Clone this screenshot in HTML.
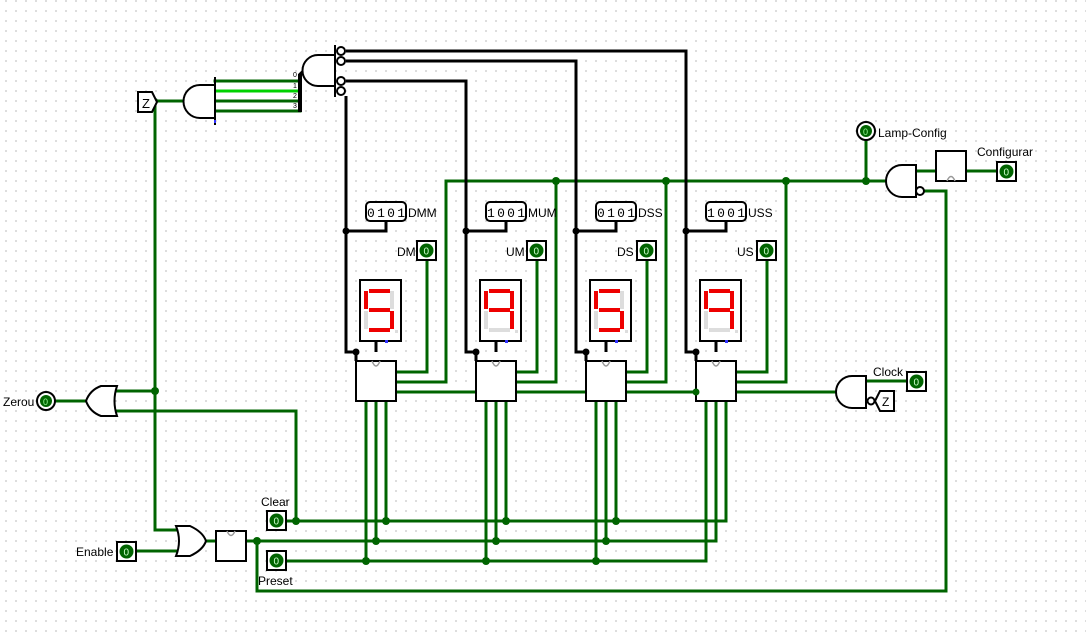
<!DOCTYPE html>
<html><head><meta charset="utf-8"><style>
html,body{margin:0;padding:0;background:#fff;}
svg{display:block;font-family:"Liberation Sans",sans-serif;}
</style></head><body>
<svg width="1086" height="636" viewBox="0 0 1086 636" xmlns="http://www.w3.org/2000/svg">
<defs>
<pattern id="g" x="5" y="0" width="10" height="10" patternUnits="userSpaceOnUse">
<rect x="0.5" y="0.5" width="1" height="1" fill="#777"/>
</pattern>
</defs>
<rect width="1086" height="636" fill="#fff"/>
<rect width="1086" height="636" fill="url(#g)"/>

<g stroke="#006400" stroke-width="3" fill="none" stroke-linecap="square">
<polyline points="155,101 185,101"/>
<line x1="215" y1="81" x2="300" y2="81"/>
<line x1="215" y1="101" x2="300" y2="101"/>
<line x1="215" y1="111" x2="300" y2="111"/>
<polyline points="155,101 155,530 178,530"/>
<line x1="55" y1="401" x2="87" y2="401"/>
<line x1="113" y1="391" x2="155" y2="391"/>
<polyline points="113,411 296,411 296,521"/>
<line x1="136" y1="551" x2="178" y2="551"/>
<line x1="206" y1="541" x2="216" y2="541"/>
<polyline points="246,541 716,541 716,400"/>
<polyline points="257,541 257,591 946,591 946,191 922,191"/>
<polyline points="286,521 726,521 726,400"/>
<polyline points="286,561 706,561 706,400"/>
<line x1="366" y1="400" x2="366" y2="561"/><line x1="376" y1="400" x2="376" y2="541"/><line x1="386" y1="400" x2="386" y2="521"/>
<line x1="486" y1="400" x2="486" y2="561"/><line x1="496" y1="400" x2="496" y2="541"/><line x1="506" y1="400" x2="506" y2="521"/>
<line x1="596" y1="400" x2="596" y2="561"/><line x1="606" y1="400" x2="606" y2="541"/><line x1="616" y1="400" x2="616" y2="521"/>
<polyline points="396,372 427,372 427,260"/>
<polyline points="516,372 537,372 537,260"/>
<polyline points="626,372 647,372 647,260"/>
<polyline points="736,372 767,372 767,260"/>
<polyline points="396,382 446,382 446,181 866,181 886,181"/>
<polyline points="516,382 556,382 556,181"/>
<polyline points="626,382 666,382 666,181"/>
<polyline points="736,382 786,382 786,181"/>
<line x1="396" y1="392" x2="476" y2="392"/>
<line x1="516" y1="392" x2="586" y2="392"/>
<line x1="626" y1="392" x2="696" y2="392"/>
<line x1="736" y1="392" x2="838" y2="392"/>
<line x1="866" y1="381" x2="907" y2="381"/>
<line x1="866" y1="140" x2="866" y2="181"/>
<line x1="916" y1="171" x2="936" y2="171"/>
<line x1="966" y1="171" x2="997" y2="171"/>
</g>
<line x1="215" y1="91" x2="300" y2="91" stroke="#00d200" stroke-width="3"/>
<g fill="#006400">
<circle cx="155" cy="391" r="4"/><circle cx="296" cy="521" r="4"/><circle cx="257" cy="541" r="4"/>
<circle cx="386" cy="521" r="4"/><circle cx="506" cy="521" r="4"/><circle cx="616" cy="521" r="4"/>
<circle cx="376" cy="541" r="4"/><circle cx="496" cy="541" r="4"/><circle cx="606" cy="541" r="4"/>
<circle cx="366" cy="561" r="4"/><circle cx="486" cy="561" r="4"/><circle cx="596" cy="561" r="4"/>
<circle cx="556" cy="181" r="4"/><circle cx="666" cy="181" r="4"/><circle cx="786" cy="181" r="4"/><circle cx="866" cy="181" r="4"/>
<circle cx="155" cy="101" r="3"/>
</g>

<g stroke="#000" stroke-width="3" fill="none">
<polyline points="346,51 686,51 686,352 696,352 696,361"/>
<polyline points="346,61 576,61 576,352 586,352 586,361"/>
<polyline points="346,81 466,81 466,352 476,352 476,361"/>
<polyline points="346,96 346,352 356,352 356,361"/>
<polyline points="386,221 386,231 346,231"/>
<polyline points="506,221 506,231 466,231"/>
<polyline points="616,221 616,231 576,231"/>
<polyline points="726,221 726,231 686,231"/>
<polyline points="376,341 376,352"/>
<polyline points="496,341 496,352"/>
<polyline points="606,341 606,352"/>
<polyline points="716,341 716,352"/>
</g>
<g fill="#000">
<circle cx="346" cy="231" r="3.5"/><circle cx="466" cy="231" r="3.5"/><circle cx="576" cy="231" r="3.5"/><circle cx="686" cy="231" r="3.5"/>
<circle cx="356" cy="352" r="3.5"/><circle cx="476" cy="352" r="3.5"/><circle cx="586" cy="352" r="3.5"/><circle cx="696" cy="352" r="3.5"/>
</g>

<g stroke="#000" stroke-width="2" fill="#fff">
<path d="M138,92 L152,92 L157,102 L152,112 L138,112 Z"/>
<path d="M215,85 L200,85 A16,16 0 0 0 200,118 L215,118 Z"/>
</g>
<text x="142" y="108" font-size="13">Z</text>
<line x1="215" y1="77" x2="215" y2="125" stroke="#000" stroke-width="2"/>
<rect x="214" y="120" width="2" height="3" fill="#33f"/>
<polyline points="300,112 300,75 307,68" stroke="#000" stroke-width="4" fill="none"/>
<g font-size="7" fill="#000"><text x="293" y="77">0</text><text x="293" y="88">1</text><text x="293" y="98">2</text><text x="293" y="108">3</text></g>
<path d="M335,55 L318,55 A15,15 0 0 0 318,86 L335,86" stroke="#000" stroke-width="2" fill="#fff"/>
<line x1="335" y1="45" x2="335" y2="97" stroke="#000" stroke-width="2"/>
<g stroke="#000" stroke-width="2" fill="#fff">
<circle cx="341" cy="51" r="4"/><circle cx="341" cy="61" r="4"/><circle cx="341" cy="81" r="4"/><circle cx="341" cy="91" r="4"/>
</g>

<circle cx="46" cy="401" r="9" fill="#fff" stroke="#000" stroke-width="2"/>
<circle cx="46" cy="401" r="6" fill="#006400"/>
<text x="43" y="405" font-size="9" fill="#9f9">0</text>
<text x="3" y="406" font-size="12">Zerou</text>
<path d="M117,386 L101,386 Q90,390 86,401 Q90,412 101,416 L117,416 Q112,401 117,386 Z" stroke="#000" stroke-width="2" fill="#fff"/>

<path d="M176,526 L190,526 Q203,532 206,541 Q203,550 190,556 L176,556 Q182,541 176,526 Z" stroke="#000" stroke-width="2" fill="#fff"/>
<rect x="216" y="531" width="30" height="30" stroke="#000" stroke-width="2" fill="#fff"/>
<path d="M227,531 Q231,540 235,531" stroke="#999" stroke-width="1.5" fill="none"/>

<g stroke="#000" stroke-width="2" fill="#fff">
<rect x="117" y="542" width="19" height="19"/>
<rect x="267" y="511" width="19" height="19"/>
<rect x="267" y="551" width="19" height="19"/>
<rect x="417" y="241" width="19" height="19"/>
<rect x="527" y="241" width="19" height="19"/>
<rect x="637" y="241" width="19" height="19"/>
<rect x="757" y="241" width="19" height="19"/>
<rect x="907" y="372" width="19" height="19"/>
<rect x="997" y="162" width="19" height="19"/>
</g>
<g fill="#006400">
<circle cx="126.5" cy="551.5" r="7"/><circle cx="276.5" cy="520.5" r="7"/><circle cx="276.5" cy="560.5" r="7"/>
<circle cx="426.5" cy="250.5" r="7"/><circle cx="536.5" cy="250.5" r="7"/><circle cx="646.5" cy="250.5" r="7"/><circle cx="766.5" cy="250.5" r="7"/>
<circle cx="916.5" cy="381.5" r="7"/><circle cx="1006.5" cy="171.5" r="7"/>
</g>
<g fill="#cfc" font-size="10">
<text x="123.5" y="555.5">0</text><text x="273.5" y="524.5">0</text><text x="273.5" y="564.5">0</text>
<text x="423.5" y="254.5">0</text><text x="533.5" y="254.5">0</text><text x="643.5" y="254.5">0</text><text x="763.5" y="254.5">0</text>
<text x="913.5" y="385.5">0</text><text x="1003.5" y="175.5">0</text>
</g>
<g font-size="12" fill="#000">
<text x="76" y="556">Enable</text>
<text x="261" y="506">Clear</text>
<text x="258" y="585">Preset</text>
<text x="397" y="256">DM</text>
<text x="506" y="256">UM</text>
<text x="617" y="256">DS</text>
<text x="737" y="256">US</text>
<text x="873" y="376">Clock</text>
<text x="977" y="156">Configurar</text>
<text x="878" y="137">Lamp-Config</text>
</g>

<circle cx="866" cy="131" r="9" fill="#fff" stroke="#000" stroke-width="2"/>
<circle cx="866" cy="131" r="6" fill="#006400"/>
<text x="863" y="135" font-size="9" fill="#9f9">0</text>

<path d="M916,165 L902,165 A16,16 0 0 0 902,197 L916,197 Z" stroke="#000" stroke-width="2" fill="#fff"/>
<circle cx="920" cy="191" r="4" stroke="#000" stroke-width="2" fill="#fff"/>
<rect x="936" y="151" width="30" height="30" stroke="#000" stroke-width="2" fill="#fff"/>
<path d="M947,181 Q951,172 955,181" stroke="#999" stroke-width="1.5" fill="none"/>

<path d="M866,376 L852,376 A16,16 0 0 0 852,408 L866,408 Z" stroke="#000" stroke-width="2" fill="#fff"/>
<circle cx="871" cy="401" r="3.5" stroke="#000" stroke-width="2" fill="#fff"/>
<path d="M875,401 L880,391 L894,391 L894,411 L880,411 Z" stroke="#000" stroke-width="2" fill="#fff"/>
<text x="882" y="406" font-size="12">Z</text>

<g stroke="#000" stroke-width="2" fill="#fff">
<rect x="366" y="202" width="40" height="19" rx="4"/>
<rect x="486" y="202" width="40" height="19" rx="4"/>
<rect x="596" y="202" width="40" height="19" rx="4"/>
<rect x="706" y="202" width="40" height="19" rx="4"/>
</g>
<g font-size="13" fill="#000" font-family="Liberation Mono, monospace">
<text x="367" y="217" textLength="38">0101</text>
<text x="487" y="217" textLength="38">1001</text>
<text x="597" y="217" textLength="38">0101</text>
<text x="707" y="217" textLength="38">1001</text>
</g>
<g font-size="12" fill="#000">
<text x="408" y="217">DMM</text><text x="528" y="217">MUM</text><text x="638" y="217">DSS</text><text x="748" y="217">USS</text>
</g>

<g stroke="#000" stroke-width="2" fill="#fff">
<rect x="360" y="280" width="41" height="61"/>
<rect x="480" y="280" width="41" height="61"/>
<rect x="590" y="280" width="41" height="61"/>
<rect x="700" y="280" width="41" height="61"/>
</g>
<g>
<rect x="369" y="289" width="21" height="4" fill="#e00"/>
<rect x="390" y="291" width="4" height="18" fill="#ddd"/>
<rect x="390" y="311" width="4" height="18" fill="#e00"/>
<rect x="369" y="328" width="21" height="4" fill="#e00"/>
<rect x="364" y="311" width="4" height="18" fill="#ddd"/>
<rect x="364" y="291" width="4" height="18" fill="#e00"/>
<rect x="369" y="308" width="21" height="4" fill="#e00"/>
<rect x="395" y="330" width="3" height="3" fill="#ddd"/>
</g>
<g transform="translate(230,0)">
<rect x="369" y="289" width="21" height="4" fill="#e00"/>
<rect x="390" y="291" width="4" height="18" fill="#ddd"/>
<rect x="390" y="311" width="4" height="18" fill="#e00"/>
<rect x="369" y="328" width="21" height="4" fill="#e00"/>
<rect x="364" y="311" width="4" height="18" fill="#ddd"/>
<rect x="364" y="291" width="4" height="18" fill="#e00"/>
<rect x="369" y="308" width="21" height="4" fill="#e00"/>
<rect x="395" y="330" width="3" height="3" fill="#ddd"/>
</g>
<g transform="translate(120,0)">
<rect x="369" y="289" width="21" height="4" fill="#e00"/>
<rect x="390" y="291" width="4" height="18" fill="#e00"/>
<rect x="390" y="311" width="4" height="18" fill="#e00"/>
<rect x="369" y="328" width="21" height="4" fill="#ddd"/>
<rect x="364" y="311" width="4" height="18" fill="#ddd"/>
<rect x="364" y="291" width="4" height="18" fill="#e00"/>
<rect x="369" y="308" width="21" height="4" fill="#e00"/>
<rect x="395" y="330" width="3" height="3" fill="#ddd"/>
</g>
<g transform="translate(340,0)">
<rect x="369" y="289" width="21" height="4" fill="#e00"/>
<rect x="390" y="291" width="4" height="18" fill="#e00"/>
<rect x="390" y="311" width="4" height="18" fill="#e00"/>
<rect x="369" y="328" width="21" height="4" fill="#ddd"/>
<rect x="364" y="311" width="4" height="18" fill="#ddd"/>
<rect x="364" y="291" width="4" height="18" fill="#e00"/>
<rect x="369" y="308" width="21" height="4" fill="#e00"/>
<rect x="395" y="330" width="3" height="3" fill="#ddd"/>
</g>
<g fill="#33f"><rect x="385" y="340" width="3" height="3"/><rect x="505" y="340" width="3" height="3"/><rect x="615" y="340" width="3" height="3"/><rect x="725" y="340" width="3" height="3"/></g>

<g stroke="#000" stroke-width="2" fill="#fff">
<rect x="356" y="361" width="40" height="40"/>
<rect x="476" y="361" width="40" height="40"/>
<rect x="586" y="361" width="40" height="40"/>
<rect x="696" y="361" width="40" height="40"/>
</g>
<g stroke="#999" stroke-width="1.5" fill="none">
<path d="M372,361 Q376,371 380,361"/><path d="M492,361 Q496,371 500,361"/><path d="M602,361 Q606,371 610,361"/><path d="M712,361 Q716,371 720,361"/>
</g>
<g fill="#006400"><circle cx="696" cy="392" r="3.5"/></g>
</svg>
</body></html>
